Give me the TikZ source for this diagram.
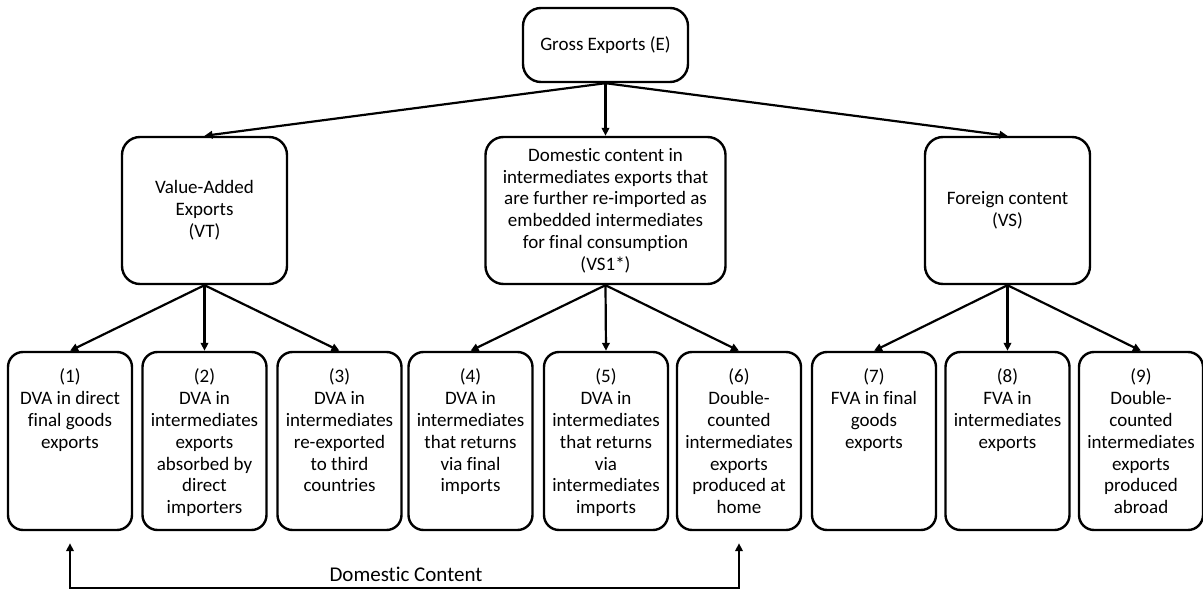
\documentclass[tikz,border=0pt]{standalone}
\usepackage{fontspec}
\setmainfont{Carlito}[Ligatures=NoCommon]
\usetikzlibrary{arrows.meta, positioning}
\newcommand{\toptext}[1]{\parbox[c][168pt][t]{120pt}{\centering\vspace*{12pt}#1}}

\begin{document}
\begin{tikzpicture}[x=1pt, y=-1pt,
	box/.style={draw, line width=2.4pt, rounded corners=18pt, align=center,
		font=\fontsize{19}{21.8}\selectfont, inner sep=2pt},
	leaf/.style={box, rounded corners=15pt, minimum width=124pt, minimum height=178pt},
	arr/.style={line width=2.2pt, -{Triangle[length=8pt,width=7.5pt]}}]
	\useasboundingbox (0,0) rectangle (1203,591);

	% root and the three parts
	\node[box, minimum width=165pt, minimum height=74pt] (gross) at (605.5,45) {Gross Exports (E)};
	\node[box, minimum width=165pt, minimum height=147pt] (vt) at (204.5,210.5) {Value-Added\\Exports\\(VT)};
	\node[box, minimum width=240pt, minimum height=147pt] (vsone) at (605.5,210.5) {Domestic content in\\intermediates exports that\\are further re-imported as\\embedded intermediates\\for final consumption\\(VS1*)};
	\node[box, minimum width=165pt, minimum height=147pt] (vs) at (1007.5,210.5) {Foreign content\\(VS)};

	% the nine components
	\node[leaf] (c1) at (70,441) {\toptext{(1)\\DVA in direct\\final goods\\exports}};
	\node[leaf] (c2) at (204.5,441) {\toptext{(2)\\DVA in\\intermediates\\exports\\absorbed by\\direct\\importers}};
	\node[leaf] (c3) at (339.5,441) {\toptext{(3)\\DVA in\\intermediates\\re-exported\\to third\\countries}};
	\node[leaf] (c4) at (470.5,441) {\toptext{(4)\\DVA in\\intermediates\\that returns\\via final\\imports}};
	\node[leaf] (c5) at (606,441) {\toptext{(5)\\DVA in\\intermediates\\that returns\\via\\intermediates\\imports}};
	\node[leaf] (c6) at (739,441) {\toptext{(6)\\Double-\\counted\\intermediates\\exports\\produced at\\home}};
	\node[leaf] (c7) at (874,441) {\toptext{(7)\\FVA in final\\goods\\exports}};
	\node[leaf] (c8) at (1007.5,441) {\toptext{(8)\\FVA in\\intermediates\\exports}};
	\node[leaf] (c9) at (1141,441) {\toptext{(9)\\Double-\\counted\\intermediates\\exports\\produced\\abroad}};

	% tree arrows
	\foreach \p in {vt, vsone, vs}
		\draw[arr] (gross.south) -- (\p.north);
	\foreach \p/\c in {vt/c1, vt/c2, vt/c3, vsone/c4, vsone/c5, vsone/c6, vs/c7, vs/c8, vs/c9}
		\draw[arr] (\p.south) -- (\c.north);

	% domestic content bracket
	\coordinate (dcbase) at (739,588);
	\draw[line width=2.2pt, {Triangle[length=8pt,width=7.5pt]}-{Triangle[length=8pt,width=7.5pt]},
		shorten <=12pt, shorten >=12pt] (c1.south) |- (dcbase) -- (c6.south);
	\node[anchor=base, font=\fontsize{21}{24}\selectfont] (dclabel) at (406,581) {Domestic Content};
\end{tikzpicture}
\end{document}
